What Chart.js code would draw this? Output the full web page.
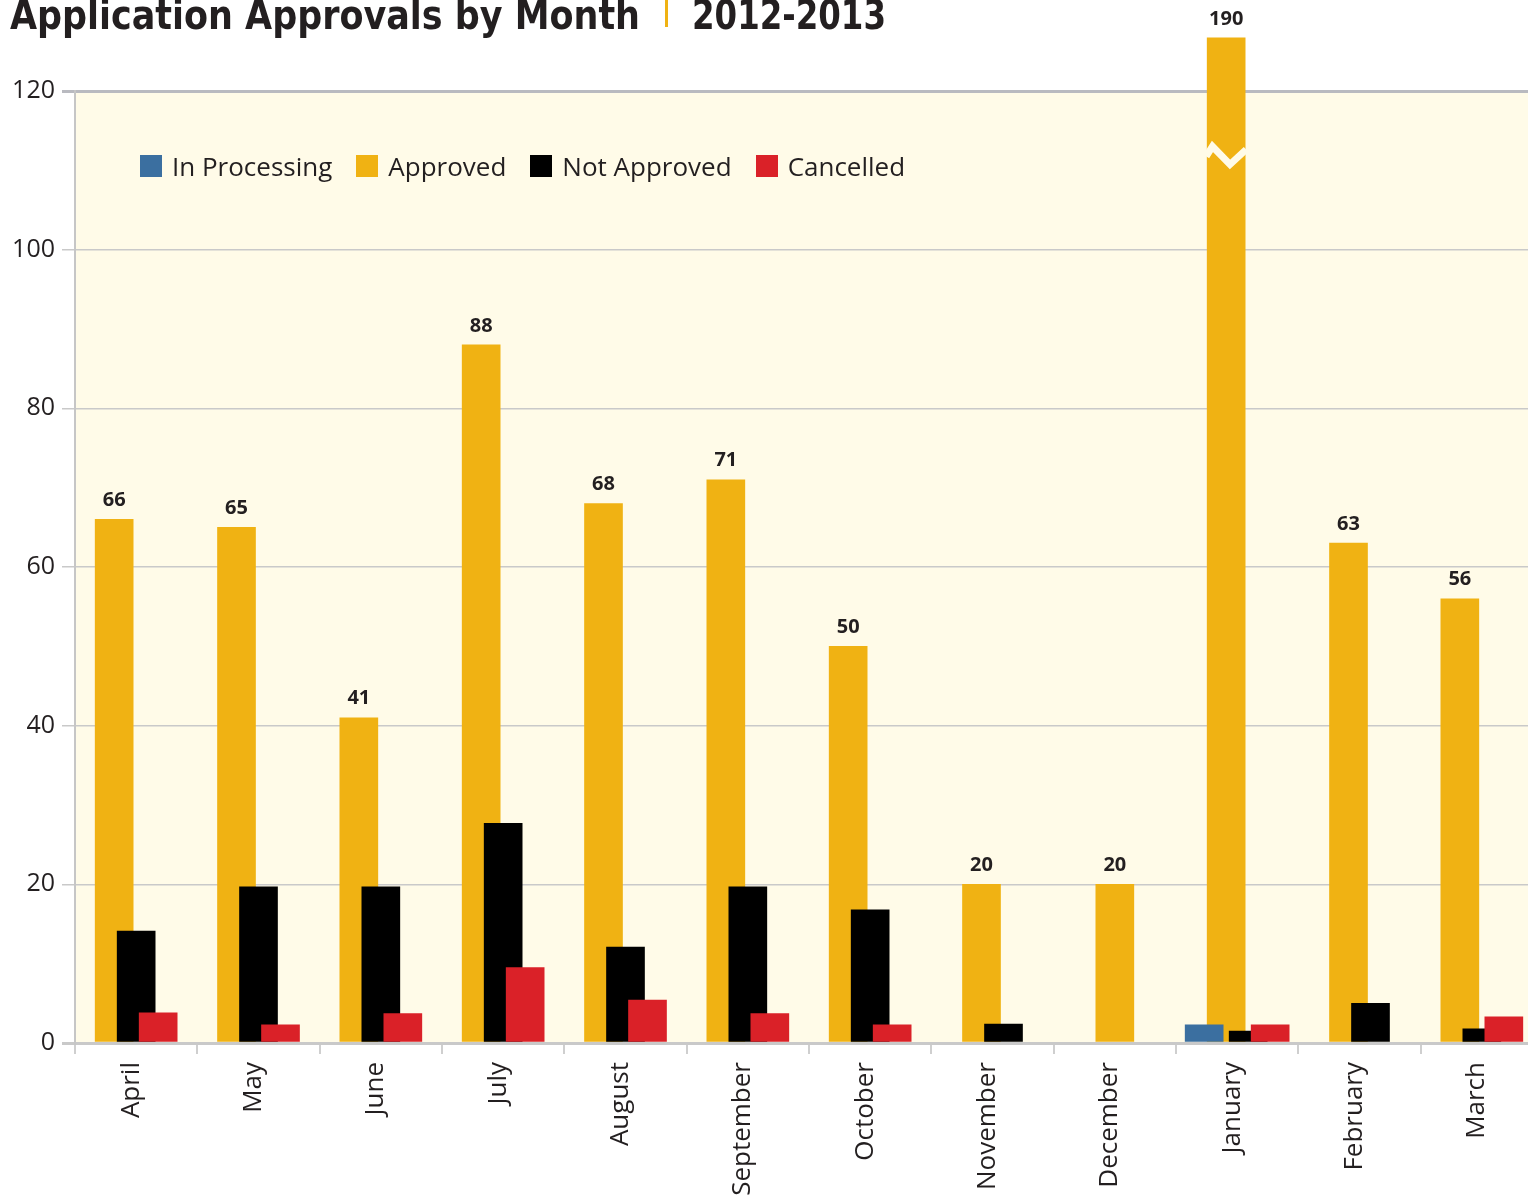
<!DOCTYPE html>
<html><head><meta charset="utf-8">
<script src="https://cdn.jsdelivr.net/npm/chart.js@4.4.1/dist/chart.umd.min.js"></script>
<style>
html,body{margin:0;padding:0;background:#fff;overflow:hidden;width:1528px;height:1199px;}
#wrap{position:absolute;left:0;top:0;width:1560px;height:1199px;}
#title{position:absolute;left:10px;top:-5px;height:46px;line-height:40px;font-family:"DejaVu Sans Condensed","DejaVu Sans",sans-serif;font-weight:bold;font-size:40px;color:#231f20;white-space:nowrap;}
#title span{position:absolute;top:0;transform-origin:0 0;display:inline-block;}
#sep{position:absolute;left:655px;top:5px;width:3px;height:27px;background:#f0b213;}
#legend{position:absolute;left:140px;top:148px;display:flex;align-items:center;font-family:"Open Sans",sans-serif;font-size:26px;color:#231f20;white-space:nowrap;}
.li{display:flex;align-items:center;margin-right:24px;}
.bx{width:22px;height:22px;margin-right:10px;}
</style></head><body>
<div id="wrap"><canvas id="c" width="1560" height="1199"></canvas></div>
<div id="title"><span id="t1">Application Approvals by Month</span><div id="sep"></div><span id="t2">2012-2013</span></div>
<div id="legend"></div>
<script>
const categories = ['April','May','June','July','August','September','October','November','December','January','February','March'];
const inProcessing = [null,null,null,null,null,null,null,null,null,2.3,null,null];
const approved     = [66,65,41,88,68,71,50,20,20,190,63,56];
const notApproved  = [14.1,19.7,19.7,27.7,12.1,19.7,16.8,2.4,null,1.5,5.0,1.8];
const cancelled    = [3.8,2.3,3.7,9.5,5.4,3.7,2.3,null,null,2.3,null,3.3];
const seriesNames  = ['In Processing','Approved','Not Approved','Cancelled'];
const yTicks = [0,20,40,60,80,100,120];
// broken axis: bars above breakCap are drawn truncated with a break mark at breakAt
const breakCap = 126.7;
const breakAt = 112;

const colors = ['#3b6fa0','#f0b213','#000000','#da2128'];
const drawSequence = [1, 2, 3, 0];
const BAR_WIDTH = 38;
const PLOT_BG = '#fffbe8';
const TEXT = '#231f20';

const approvedShown = approved.map(v => v == null ? null : Math.min(v, breakCap));
const allSeries = [inProcessing, approvedShown, notApproved, cancelled];

const bgPlugin = {
  id: 'plotBg',
  beforeDraw(chart) {
    const {ctx, chartArea: a, scales: {y}} = chart;
    ctx.save();
    ctx.fillStyle = PLOT_BG;
    const top = y.getPixelForValue(yTicks[yTicks.length - 1]);
    const bot = y.getPixelForValue(0);
    ctx.fillRect(a.left, top, a.right - a.left, bot - top);
    ctx.restore();
  }
};

const widenPlugin = {
  id: 'widenBars',
  afterDatasetsUpdate(chart) {
    chart.data.datasets.forEach((ds, i) => {
      chart.getDatasetMeta(i).data.forEach(el => { el.width = BAR_WIDTH; });
    });
  }
};

const orderPlugin = {
  id: 'drawOrder',
  beforeDatasetsDraw(chart) {
    drawSequence.forEach(i => {
      const m = chart.getDatasetMeta(i);
      if (typeof chart._drawDataset === 'function') chart._drawDataset(m);
      else m.controller.draw();
    });
    const ctx = chart.ctx;
    const y = chart.scales.y;
    const am = chart.getDatasetMeta(1);
    // break mark
    approved.forEach((v, i) => {
      if (v != null && v > breakCap) {
        const el = am.data[i];
        const x0 = el.x - el.width / 2, w = el.width;
        const yb = y.getPixelForValue(breakAt);
        ctx.save();
        ctx.strokeStyle = PLOT_BG;
        ctx.lineWidth = 7;
        ctx.lineJoin = 'miter';
        ctx.beginPath();
        ctx.moveTo(x0 - 1, yb + 2);
        ctx.lineTo(x0 + w * 0.14, yb - 8);
        ctx.lineTo(x0 + w * 0.6, yb + 10);
        ctx.lineTo(x0 + w + 1, yb - 5);
        ctx.stroke();
        ctx.restore();
      }
    });
    // value labels
    ctx.save();
    ctx.font = 'bold 20px "Open Sans"';
    ctx.fillStyle = TEXT;
    ctx.textAlign = 'center';
    ctx.textBaseline = 'middle';
    approved.forEach((v, i) => {
      if (v == null) return;
      const el = am.data[i];
      ctx.fillText(String(v), el.x, el.y - 19);
    });
    ctx.restore();
    return false;
  }
};

const chart = new Chart(document.getElementById('c'), {
  type: 'bar',
  data: {
    labels: categories,
    datasets: allSeries.map((d, i) => ({
      label: seriesNames[i],
      data: d,
      backgroundColor: colors[i],
      borderWidth: 0,
      clip: false
    }))
  },
  options: {
    responsive: false,
    animation: false,
    devicePixelRatio: 1,
    skipNull: true,
    barThickness: 22,
    layout: { padding: { top: 91, right: 17, bottom: 0, left: 0 } },
    plugins: { legend: { display: false }, title: { display: false }, tooltip: { enabled: false } },
    scales: {
      x: {
        grid: { offset: true, drawOnChartArea: false, drawTicks: true, tickLength: 11, color: '#cfcfcf', lineWidth: 2 },
        border: { display: false },
        ticks: { maxRotation: 90, minRotation: 90, autoSkip: false, padding: 8, labelOffset: -5, color: TEXT, font: { family: 'Open Sans', size: 26 } },
        afterFit(s) { s.height = 156; }
      },
      y: {
        min: 0, max: 120,
        afterBuildTicks(s) { s.ticks = yTicks.map(v => ({ value: v })); },
        ticks: { padding: 7, color: TEXT, font: { family: 'Open Sans', size: 25 } },
        grid: {
          tickLength: 13,
          color: c => c.tick && c.tick.value === 120 ? '#b9bac0' : '#c9c9c9',
          lineWidth: c => c.tick && (c.tick.value === 120 || c.tick.value === 0) ? 3 : 1.5
        },
        border: { display: true, color: '#c6c6c6', width: 2 },
        afterFit(s) { s.width = 75; }
      }
    }
  },
  plugins: [bgPlugin, widenPlugin, orderPlugin]
});

// legend built from the chart datasets
const lg = document.getElementById('legend');
chart.data.datasets.forEach(ds => {
  const it = document.createElement('div'); it.className = 'li';
  const b = document.createElement('div'); b.className = 'bx'; b.style.background = ds.backgroundColor;
  const t = document.createElement('span'); t.textContent = ds.label;
  it.appendChild(b); it.appendChild(t); lg.appendChild(it);
});

// fit title pieces to their widths
function fit(id, left, width) {
  const el = document.getElementById(id);
  el.style.left = (left - 10) + 'px';
  const w = el.getBoundingClientRect().width;
  el.style.transform = 'scaleX(' + (width / w) + ')';
}
fit('t1', 10, 630);
fit('t2', 692, 194);
</script>
</body></html>
